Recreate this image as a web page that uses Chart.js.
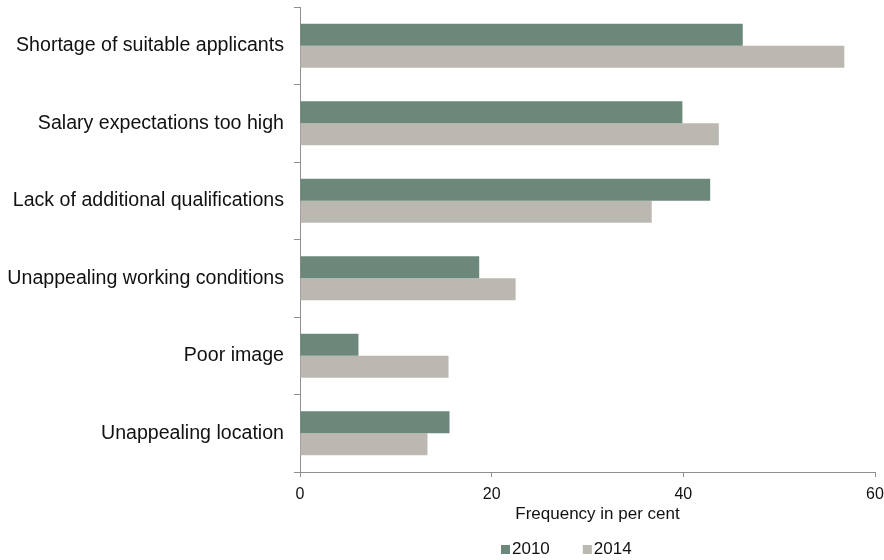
<!DOCTYPE html>
<html>
<head>
<meta charset="utf-8">
<script src="https://cdn.jsdelivr.net/npm/chart.js@4"></script>
<style>
html,body{margin:0;padding:0;background:#fff;}
#wrap{width:884px;height:560px;position:relative;}
</style>
</head>
<body>
<div id="wrap"><canvas id="c" width="884" height="560"></canvas></div>
<script>
const categories = [
  'Shortage of suitable applicants',
  'Salary expectations too high',
  'Lack of additional qualifications',
  'Unappealing working conditions',
  'Poor image',
  'Unappealing location'
];
const seriesNames = ['2010', '2014'];
const values2010 = [46.2, 39.9, 42.8, 18.7, 6.1, 15.6];
const values2014 = [56.8, 43.7, 36.7, 22.5, 15.5, 13.3];
const xTickValues = [0, 20, 40, 60];
const xAxisTitle = 'Frequency in per cent';

const FONT = '"Liberation Sans", Arial, Helvetica, sans-serif';
const AXIS = '#8f8f8f';
const TEXT = '#111111';
const COLORS = ['#6b887b', '#bbb8b1'];

// Axis title and legend drawn below the plot, placed like the original
const bottomAnnotations = {
  id: 'bottomAnnotations',
  afterDraw(chart) {
    const ctx = chart.ctx;
    ctx.save();
    ctx.textBaseline = 'middle';
    // x-axis title
    ctx.font = '17px ' + FONT;
    ctx.textAlign = 'center';
    ctx.fillStyle = TEXT;
    ctx.fillText(xAxisTitle, 597.5, 514);
    // legend
    ctx.textAlign = 'left';
    let x = 501;
    const y = 549.5;
    chart.data.datasets.forEach((ds) => {
      ctx.fillStyle = ds.backgroundColor;
      ctx.fillRect(x, y - 4.5, 9, 9);
      x += 11;
      ctx.fillStyle = TEXT;
      ctx.fillText(ds.label, x, y);
      x += ctx.measureText(ds.label).width + 33;
    });
    ctx.restore();
  }
};

new Chart(document.getElementById('c'), {
  type: 'bar',
  data: {
    labels: categories,
    datasets: [
      { label: seriesNames[0], data: values2010, backgroundColor: COLORS[0], borderWidth: 0,
        categoryPercentage: 0.57, barPercentage: 1.0 },
      { label: seriesNames[1], data: values2014, backgroundColor: COLORS[1], borderWidth: 0,
        categoryPercentage: 0.57, barPercentage: 1.0 }
    ]
  },
  options: {
    indexAxis: 'y',
    responsive: false,
    animation: false,
    devicePixelRatio: 1,
    layout: { padding: { top: 7, right: 9, left: 0, bottom: 38 } },
    plugins: {
      legend: { display: false },
      tooltip: { enabled: false },
      title: { display: false }
    },
    scales: {
      x: {
        type: 'linear',
        min: xTickValues[0],
        max: xTickValues[xTickValues.length - 1],
        afterBuildTicks(scale) { scale.ticks = xTickValues.map(v => ({ value: v })); },
        ticks: { color: TEXT, font: { family: FONT, size: 16 }, padding: 8, maxRotation: 0 },
        grid: { drawOnChartArea: false, drawTicks: true, tickLength: 5, color: AXIS },
        border: { display: true, color: AXIS, width: 1 },
        title: { display: false },
        afterFit(scale) { scale.height = 50; scale.paddingLeft = 0; scale.paddingRight = 0; }
      },
      y: {
        type: 'category',
        ticks: { color: TEXT, font: { family: FONT, size: 19.6 }, padding: 10, autoSkip: false },
        grid: { offset: true, drawOnChartArea: false, drawTicks: true, tickLength: 6, color: AXIS },
        border: { display: true, color: AXIS, width: 1 },
        afterFit(scale) { scale.width = 300; scale.paddingTop = 0; scale.paddingBottom = 0; }
      }
    }
  },
  plugins: [bottomAnnotations]
});
</script>
</body>
</html>
